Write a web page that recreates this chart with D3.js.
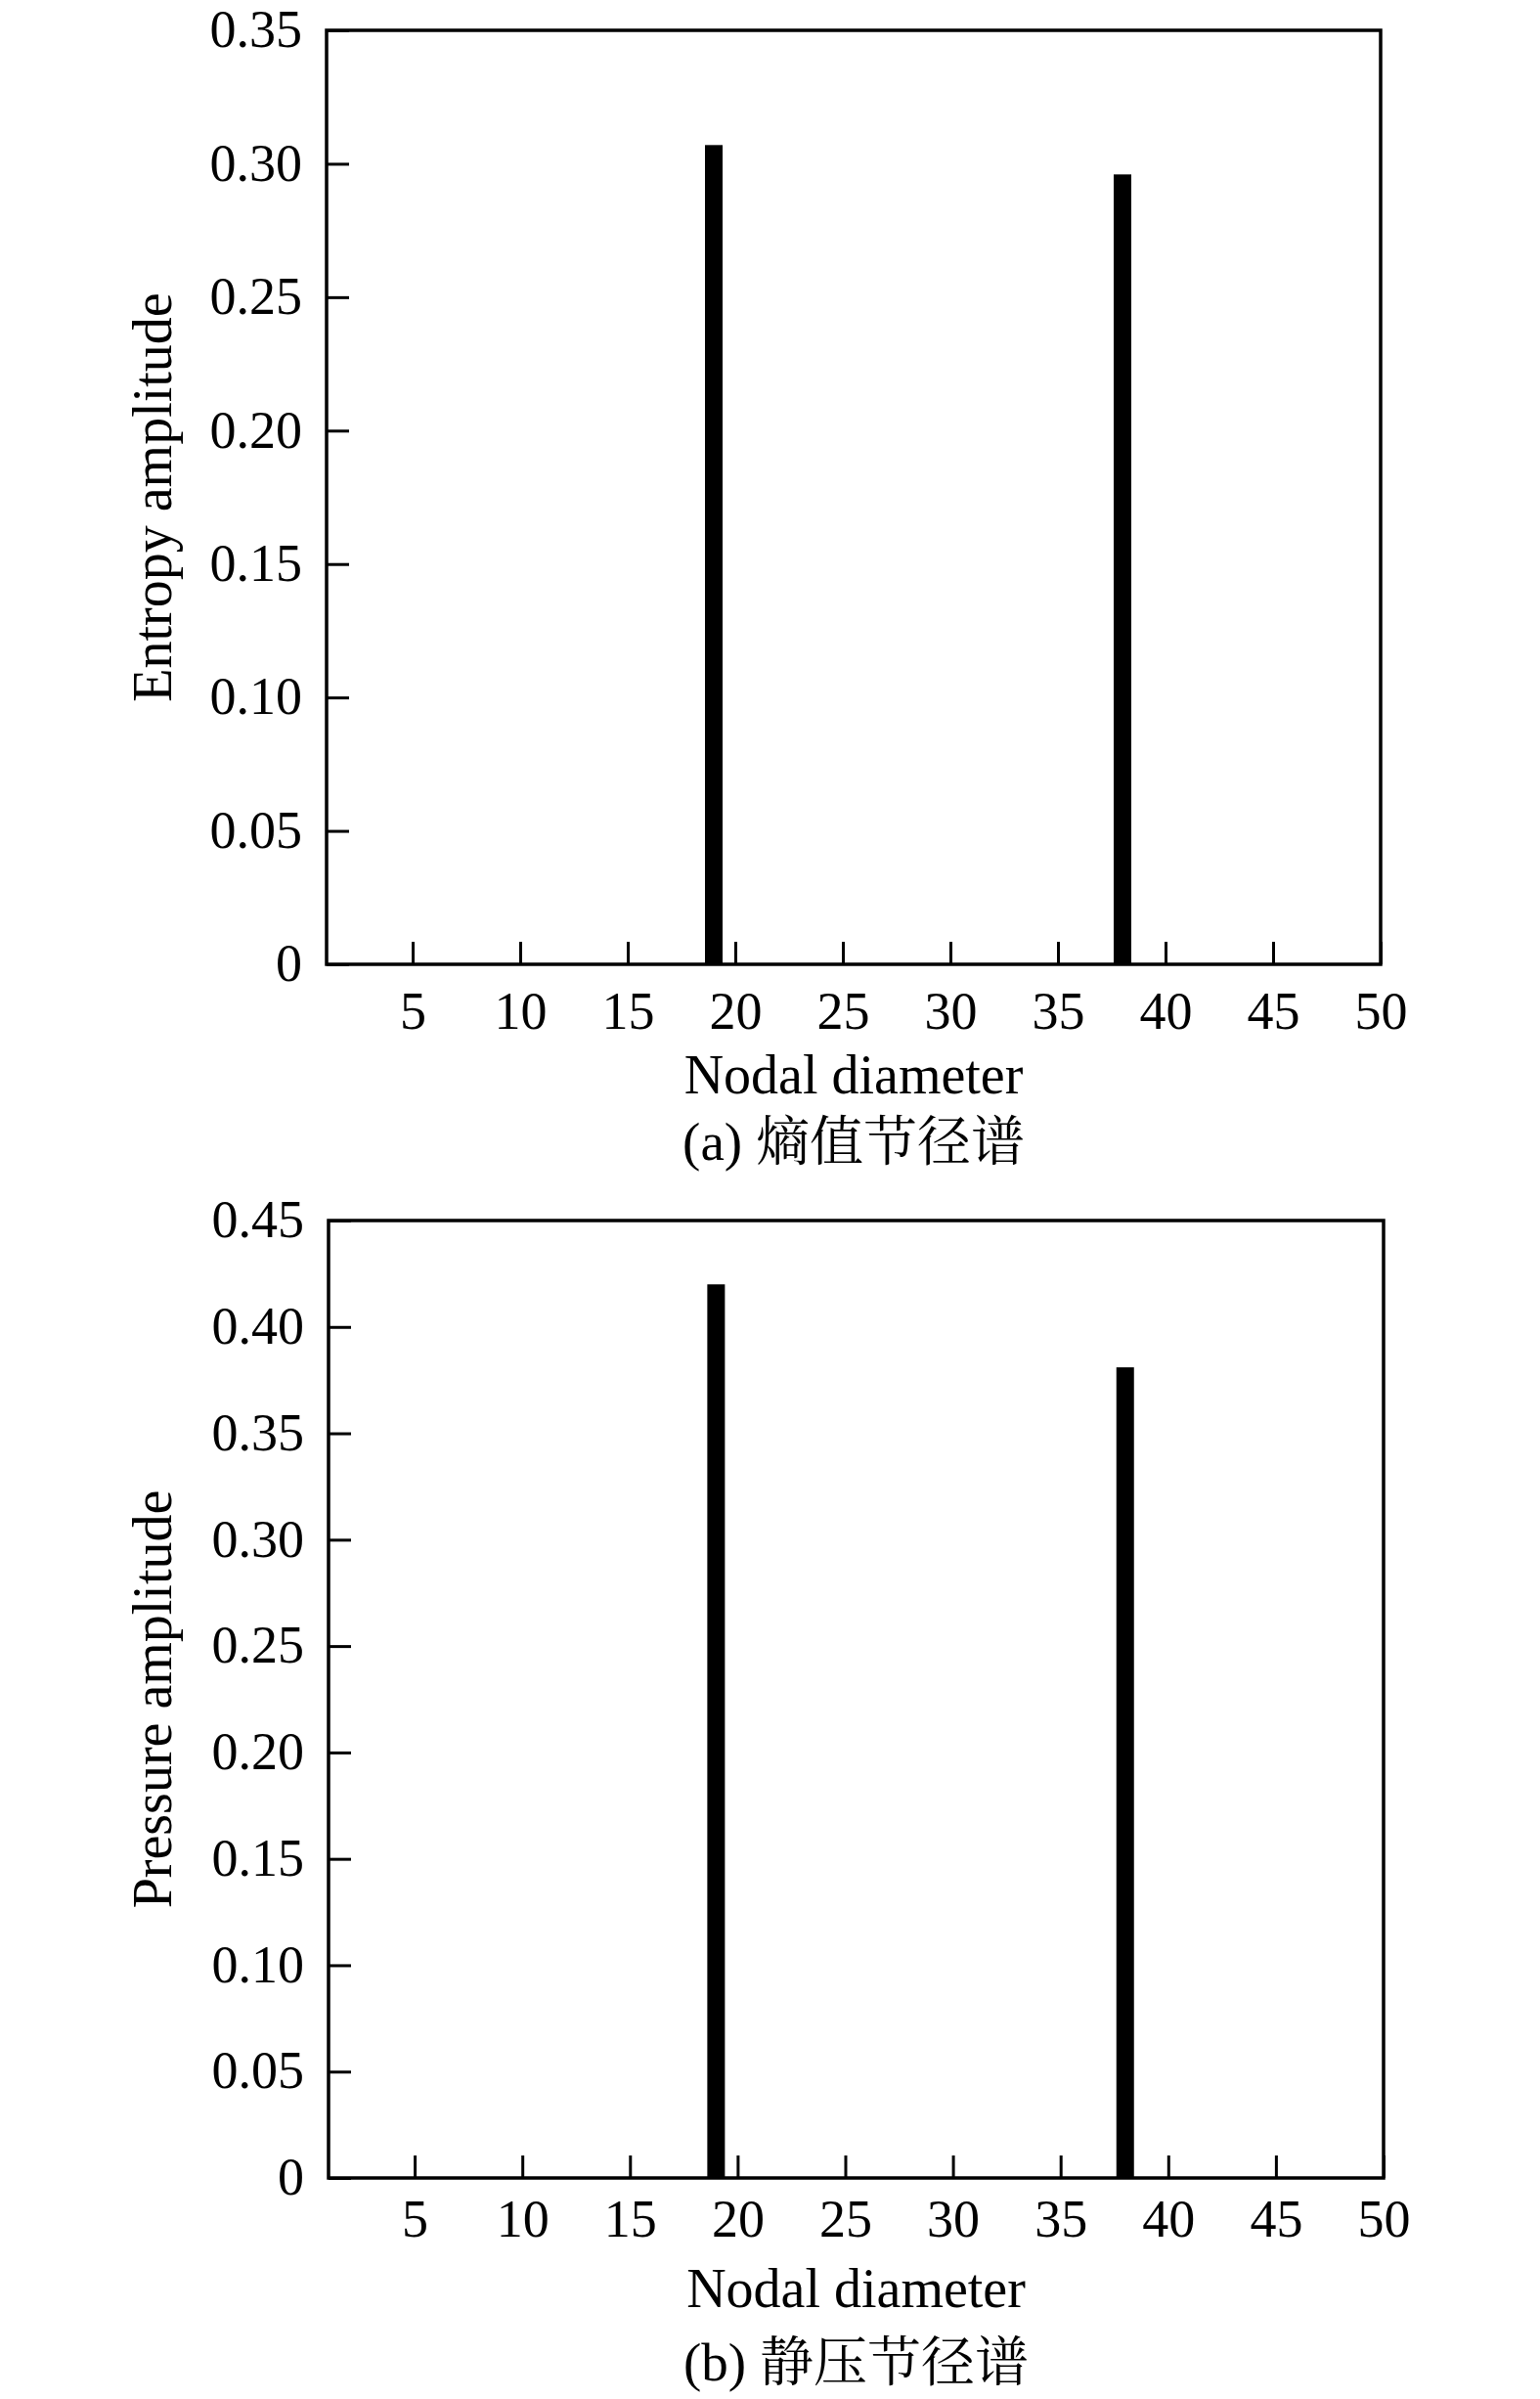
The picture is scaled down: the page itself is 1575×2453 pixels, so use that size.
<!DOCTYPE html>
<html>
<head>
<meta charset="utf-8">
<script src="https://cdn.jsdelivr.net/npm/d3@7/dist/d3.min.js"></script>
<style>
  html, body { margin: 0; padding: 0; background: #fff; }
  svg { display: block; }
  text { font-family: "Liberation Serif", "Times New Roman", "Noto Serif CJK SC", "Noto Sans CJK SC", serif; fill: #000; }
</style>
</head>
<body>
<svg id="chart" width="1575" height="2453"></svg>
<script>
// ---- data ----
const nodalDiameters = [19, 38];
const entropyAmplitude = [0.307, 0.296];
const pressureAmplitude = [0.42, 0.381];
const xTickValues = [5, 10, 15, 20, 25, 30, 35, 40, 45, 50];
const entropyTicks = [0, 0.05, 0.10, 0.15, 0.20, 0.25, 0.30, 0.35];
const pressureTicks = [0, 0.05, 0.10, 0.15, 0.20, 0.25, 0.30, 0.35, 0.40, 0.45];
const xLabel = "Nodal diameter";
const panelA = { yLabel: "Entropy amplitude", caption: "(a) 熵值节径谱", yMax: 0.35 };
const panelB = { yLabel: "Pressure amplitude", caption: "(b) 静压节径谱", yMax: 0.45 };

// ---- layout ----
const svg = d3.select("#chart");
const FONT = 54;
const TITLE_FONT = 56;

function drawPanel(cfg, values, ticks, box) {
  const g = svg.append("g");
  const x = d3.scaleLinear().domain([1, 50]).range([box.left, box.right]);
  const y = d3.scaleLinear().domain([0, cfg.yMax]).range([box.bottom, box.top]);
  const fmt = v => v === 0 ? "0" : v.toFixed(2);

  // bars
  const bw = 18;
  g.selectAll("rect.bar").data(nodalDiameters.map((d, i) => ({ d, v: values[i] })))
    .enter().append("rect").attr("class", "bar")
    .attr("x", p => x(p.d) - bw / 2)
    .attr("width", bw)
    .attr("y", p => y(p.v))
    .attr("height", p => y(0) - y(p.v))
    .attr("fill", "#000");

  // y axis
  const ya = g.append("g").attr("transform", `translate(${box.left},0)`)
    .call(d3.axisLeft(y).tickValues(ticks).tickFormat(fmt).tickSize(-23).tickPadding(25));
  ya.select(".domain").remove();
  ya.selectAll(".tick line").attr("stroke", "#000").attr("stroke-width", 3);
  ya.selectAll(".tick text").attr("font-size", FONT).attr("dy", "0.31em")
    .style("font-family", '"Liberation Serif", "Times New Roman", serif');

  // x axis
  const xa = g.append("g").attr("transform", `translate(0,${box.bottom})`)
    .call(d3.axisBottom(x).tickValues(xTickValues).tickFormat(d3.format("d")).tickSize(-23).tickPadding(box.xPad));
  xa.select(".domain").remove();
  xa.selectAll(".tick line").attr("stroke", "#000").attr("stroke-width", 3);
  xa.selectAll(".tick text").attr("font-size", FONT)
    .style("font-family", '"Liberation Serif", "Times New Roman", serif');

  // frame
  g.append("rect")
    .attr("x", box.left).attr("y", box.top)
    .attr("width", box.right - box.left).attr("height", box.bottom - box.top)
    .attr("fill", "none").attr("stroke", "#000").attr("stroke-width", 3.5);

  const cx = (box.left + box.right) / 2;
  // x label
  g.append("text").attr("x", cx).attr("y", box.bottom + 132)
    .attr("text-anchor", "middle").attr("font-size", TITLE_FONT).text(xLabel);
  // caption
  g.append("text").attr("x", cx).attr("y", box.bottom + box.capOff)
    .attr("text-anchor", "middle").attr("font-size", 55).text(cfg.caption);
  // y label
  g.append("text")
    .attr("transform", `translate(175,${(box.top + box.bottom) / 2}) rotate(-90)`)
    .attr("text-anchor", "middle").attr("font-size", TITLE_FONT).text(cfg.yLabel);
}

drawPanel(panelA, entropyAmplitude, entropyTicks,
  { left: 334, right: 1412, top: 31, bottom: 986, xPad: 28, capOff: 200 });
drawPanel(panelB, pressureAmplitude, pressureTicks,
  { left: 336, right: 1415, top: 1248, bottom: 2227, xPad: 22, capOff: 207 });
</script>
</body>
</html>
